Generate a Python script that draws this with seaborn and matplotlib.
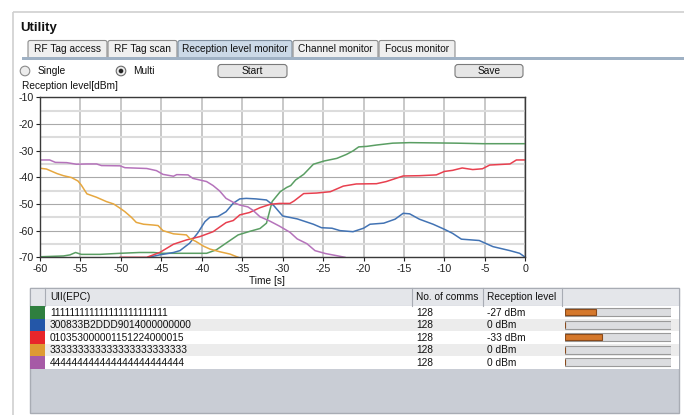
import numpy as np
import pandas as pd
import matplotlib
matplotlib.use("Agg")
import matplotlib.pyplot as plt
import seaborn as sns
from matplotlib.patches import Rectangle, FancyBboxPatch, Circle

plt.rcParams['font.family'] = ['Liberation Sans', 'DejaVu Sans']

# ---------------- data ----------------
t_green = [-60, -57.1, -56.3, -55.6, -54.9, -52.6, -50.1, -47.7, -46.0, -44.8, -42.7, -39.4, -38.2, -37.0,
           -35.5, -34.1, -32.8, -32.0, -31.3, -30.3, -29.5, -29.0, -28.4, -27.4, -26.2, -24.9, -23.3, -22.1,
           -21.3, -20.6, -19.6, -18.4, -16.4, -14.3, -11.4, -8.5, -5.2, 0]
v_green = [-69.8, -69.5, -69.1, -68.2, -68.9, -68.9, -68.5, -68.2, -68.2, -68.5, -68.5, -68.5, -67.2, -64.7,
           -61.6, -60.3, -59.2, -57.2, -49.1, -45.4, -43.8, -43.1, -41.0, -38.9, -35.1, -33.9, -32.9, -31.4,
           -30.1, -28.6, -28.4, -27.9, -27.2, -27.0, -27.1, -27.2, -27.4, -27.4]

t_blue = [-46.6, -45.2, -43.5, -42.7, -41.5, -40.5, -39.6, -39.0, -38.0, -37.0, -36.1, -35.3, -34.5, -33.3,
          -32.0, -31.1, -30.0, -28.2, -27.2, -26.2, -25.2, -23.9, -22.9, -21.3, -20.0, -19.2, -17.5, -16.1,
          -15.1, -14.3, -13.1, -11.4, -10.0, -9.0, -7.9, -5.7, -4.0, -1.9, -0.7, 0]
v_blue = [-70, -69.1, -68.2, -67.5, -64.7, -60.9, -56.6, -55.0, -54.7, -52.9, -49.7, -48.1, -47.9, -48.1,
          -48.5, -50.6, -54.5, -55.6, -56.6, -57.6, -58.9, -59.1, -60.0, -60.4, -59.1, -57.6, -57.2, -55.7,
          -53.5, -53.7, -55.7, -57.6, -59.5, -61.0, -63.2, -63.7, -66.0, -67.5, -68.5, -70]

t_red = [-50.1, -46.8, -45.2, -43.5, -41.9, -40.2, -38.6, -37.0, -36.1, -35.3, -34.1, -32.8, -31.5, -30.4,
         -29.1, -28.6, -27.4, -25.8, -24.1, -22.5, -20.9, -18.4, -17.2, -16.4, -15.1, -13.1, -11.0, -10.0,
         -9.0, -7.8, -6.5, -5.3, -4.4, -1.9, -1.1, 0]
v_red = [-70, -70, -68.2, -65.1, -63.5, -62.2, -60.4, -57.0, -56.2, -54.1, -53.2, -51.4, -50.1, -49.8,
         -49.8, -48.9, -46.1, -45.9, -45.4, -43.3, -42.5, -42.4, -41.6, -40.8, -39.5, -39.4, -39.1, -37.8,
         -37.4, -36.5, -37.1, -36.8, -35.4, -35.0, -33.5, -33.5]

t_orange = [-60, -59.2, -57.9, -57.1, -56.1, -55.3, -54.9, -54.2, -53.0, -51.8, -50.9, -50.1, -49.5, -48.7,
            -48.1, -47.2, -46.0, -45.4, -44.8, -43.5, -41.9, -41.5, -40.7, -39.8, -39.0, -37.8, -36.5, -35.5]
v_orange = [-36.6, -36.9, -38.6, -39.4, -40.1, -41.4, -42.9, -46.2, -47.5, -49.1, -50.0, -51.6, -52.9, -55.0,
            -56.9, -57.6, -57.9, -58.1, -60.0, -61.2, -61.6, -62.9, -64.1, -65.8, -66.9, -67.9, -68.8, -70]

t_purple = [-60, -58.8, -58.1, -56.7, -55.5, -54.2, -53.0, -52.4, -50.1, -49.5, -46.8, -45.6, -44.8, -43.5,
            -43.1, -41.7, -41.1, -39.4, -38.6, -37.8, -37.0, -36.1, -35.3, -34.3, -33.7, -32.8, -31.6, -30.4,
            -29.1, -28.2, -27.0, -26.0, -24.7, -23.3, -22.3]
v_purple = [-33.5, -33.5, -34.4, -34.5, -35.1, -35.0, -35.0, -35.6, -35.7, -36.4, -36.7, -37.5, -38.9, -39.6,
            -39.0, -39.1, -40.4, -41.6, -43.1, -45.1, -47.9, -49.4, -50.4, -51.1, -52.3, -54.8, -56.4, -58.3,
            -60.6, -63.1, -64.9, -67.5, -68.6, -69.4, -70]

x_ticks = list(range(-60, 1, 5))
y_ticks = list(range(-70, -9, 10))

epcs = ["111111111111111111111111", "300833B2DDD9014000000000", "010353000001151224000015",
        "333333333333333333333333", "444444444444444444444444"]
comms = [128, 128, 128, 128, 128]
levels = ["-27 dBm", "0 dBm", "-33 dBm", "0 dBm", "0 dBm"]
level_fill = [0.29, 0.0, 0.35, 0.0, 0.0]
headers = ["UII(EPC)", "No. of comms", "Reception level"]
tabs = ["RF Tag access", "RF Tag scan", "Reception level monitor", "Channel monitor", "Focus monitor"]

line_colors = ["#5a9e63", "#4273b4", "#e8404f", "#e6a73f", "#b573bb"]
swatch_colors = ["#2f7f3f", "#2457a8", "#e8262b", "#de9a33", "#a65aa6"]

# ---------------- figure ----------------
W, H = 684, 415
fig = plt.figure(figsize=(W / 100, H / 100), dpi=100)
fig.patch.set_facecolor("white")

bg = fig.add_axes([0, 0, 1, 1])
bg.set_xlim(0, W)
bg.set_ylim(H, 0)
bg.axis("off")

FS = 7.3
# panel frame
bg.add_patch(Rectangle((12.5, 12.5), W, H, fill=False, ec="#d0d0d0", lw=1.2))
bg.text(20, 28, "Utility", fontsize=9.5, fontweight="bold", va="center", ha="left", color="#111")

# tabs
tab_x = [28, 108, 178, 293, 379, 456]
for i, name in enumerate(tabs):
    x0, x1 = tab_x[i], tab_x[i + 1] - 1
    sel = (i == 2)
    bg.add_patch(FancyBboxPatch((x0, 40.5), x1 - x0, 18, boxstyle="round,pad=0,rounding_size=2",
                                fc="#cbd9e7" if sel else "#efefef", ec="#7e8e9e" if sel else "#8c8c8c", lw=0.8))
    bg.text((x0 + x1) / 2, 48.5, name, fontsize=FS, ha="center", va="center", color="#111")
bg.add_patch(Rectangle((22, 57.5), W, 3, fc="#9fb1c4", ec="none"))

# radio buttons
bg.add_patch(Circle((25, 71), 4.8, fc="#ececec", ec="#8a8a8a", lw=0.8))
bg.text(38, 71, "Single", fontsize=FS, va="center", color="#111")
bg.add_patch(Circle((121, 71), 4.8, fc="#ececec", ec="#6a6a6a", lw=0.8))
bg.add_patch(Circle((121, 71), 2.3, fc="#222", ec="none"))
bg.text(133, 71, "Multi", fontsize=FS, va="center", color="#111")

# buttons
for (x0, x1, lab) in [(218, 287, "Start"), (455, 523, "Save")]:
    bg.add_patch(FancyBboxPatch((x0, 64.5), x1 - x0, 13, boxstyle="round,pad=0,rounding_size=3",
                                fc="#e6e6e6", ec="#7a7a7a", lw=0.8))
    bg.text((x0 + x1) / 2, 71, lab, fontsize=FS, ha="center", va="center", color="#111")

bg.text(22, 86, "Reception level[dBm]", fontsize=FS, va="center", color="#111")
bg.text(267, 281, "Time [s]", fontsize=FS, ha="center", va="center", color="#111")

# ---------------- table ----------------
tl, tr, tt, tb = 30, 679, 287.5, 413
hdr_b = 306
row_h = 12.5
bg.add_patch(Rectangle((tl, tt), tr - tl, tb - tt, fc="#c9cdd5", ec="#a8acb4", lw=1))
bg.add_patch(Rectangle((tl, tt), tr - tl, hdr_b - tt, fc="#e4e6ea", ec="#a8acb4", lw=0.8))
for xs in [45, 412, 483, 562]:
    bg.plot([xs, xs], [tt, hdr_b], color="#a8acb4", lw=0.8)
hdr_x = [50, 416, 487]
for hx, h in zip(hdr_x, headers):
    bg.text(hx, (tt + hdr_b) / 2, h, fontsize=FS, va="center", color="#111")
for i in range(len(epcs)):
    y0 = hdr_b + i * row_h
    bg.add_patch(Rectangle((45, y0), tr - 45, row_h, fc="white" if i % 2 == 0 else "#ececec", ec="none"))
    bg.add_patch(Rectangle((tl, y0), 45 - tl, row_h, fc=swatch_colors[i], ec="none"))
    yc = y0 + row_h / 2 + 0.5
    bg.text(50, yc, epcs[i], fontsize=FS, va="center", color="#111")
    bg.text(416, yc, str(comms[i]), fontsize=FS, va="center", color="#111")
    bg.text(487, yc, levels[i], fontsize=FS, va="center", color="#111")

# level bars
n = len(epcs)
bax = fig.add_axes([565 / W, 1 - (hdr_b + n * row_h) / H, 106 / W, n * row_h / H])
bax.set_xlim(0, 1)
bax.set_ylim(n - 0.5, -0.5)
bax.axis("off")
bax.barh(range(n), [1.0] * n, height=0.62, color="#dcdde0", edgecolor="#9a9a9a", lw=0.8)
bax.barh(range(n), level_fill, height=0.5, color="#d5782c", edgecolor="#8a4a1a", lw=0.8)

# ---------------- chart ----------------
ax = fig.add_axes([40 / W, 1 - 257.3 / H, 485.3 / W, 160 / H])
ax.set_facecolor("white")
series = [(t_green, v_green), (t_blue, v_blue), (t_red, v_red), (t_orange, v_orange), (t_purple, v_purple)]
for (tt_, vv), c in zip(series, line_colors):
    df = pd.DataFrame({"t": tt_, "v": vv})
    sns.lineplot(data=df, x="t", y="v", ax=ax, color=c, lw=1.1, estimator=None, sort=False)
ax.set_xlim(-60, 0)
ax.set_ylim(-70, -10)
ax.set_xticks(x_ticks)
ax.set_yticks(y_ticks)
ax.set_yticks(list(range(-65, -10, 10)), minor=True)
ax.grid(True, which="major", axis="y", color="#a9a9a9", lw=0.8)
ax.grid(True, which="minor", axis="y", color="#dcdcdc", lw=1.5)
ax.grid(True, which="major", axis="x", color="#c8c8c8", lw=1.4)
ax.set_axisbelow(True)
ax.set_xlabel("")
ax.set_ylabel("")
ax.tick_params(axis="both", which="major", labelsize=FS + 0.4, colors="#222", length=3, width=0.8, pad=1.5)
ax.tick_params(axis="y", which="minor", length=0)
for s in ax.spines.values():
    s.set_color("#3a3a3a")
    s.set_linewidth(1.0)
ax.set_xticklabels([str(x) for x in x_ticks])
ax.set_yticklabels([str(y) for y in y_ticks])

fig.savefig("out.png", dpi=100)
